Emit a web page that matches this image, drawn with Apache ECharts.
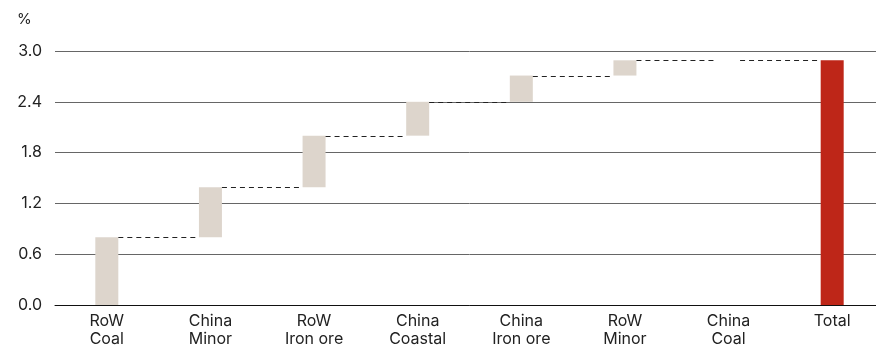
<!DOCTYPE html>
<html>
<head>
<meta charset="utf-8">
<script src="https://cdn.jsdelivr.net/npm/echarts@6/dist/echarts.min.js"></script>
<style>
  html, body { margin: 0; padding: 0; background: #fff; overflow: hidden; }
  /* plot runs slightly past the right edge of the 876px view */
  #chart { width: 884px; height: 350px; }
</style>
</head>
<body>
<div id="chart"></div>
<script>
// Contribution of each segment to growth, %
const categories = ['RoW\nCoal', 'China\nMinor', 'RoW\nIron ore', 'China\nCoastal', 'China\nIron ore', 'RoW\nMinor', 'China\nCoal', 'Total'];
const deltas = [0.80, 0.59, 0.61, 0.40, 0.31, 0.18, 0.00];
const total = 2.89;
const yTicks = [0.0, 0.6, 1.2, 1.8, 2.4, 3.0];

// Running totals: invisible base under each step, then the step itself
const bases = [];
const steps = [];
let running = 0;
deltas.forEach(function (d) {
  bases.push(+running.toFixed(4));
  steps.push(d);
  running += d;
});
bases.push(0);
steps.push(total);

// Connector levels: cumulative level after each step
const levels = bases.map(function (b, i) { return +(b + steps[i]).toFixed(4); });

const FONT = 'Inter, "DejaVu Sans", sans-serif';
const BAR_W = 23;

const chart = echarts.init(document.getElementById('chart'), null, { renderer: 'canvas' });
chart.setOption({
  animation: false,
  title: {
    text: '%', left: 12, top: 7,
    textStyle: { fontFamily: FONT, fontSize: 15, fontWeight: 'normal', color: '#222' }
  },
  grid: { left: 55, top: 51, right: 0, height: 254, containLabel: false },
  xAxis: {
    type: 'category',
    data: categories,
    axisLine: { lineStyle: { color: '#111', width: 1 } },
    axisTick: { show: false },
    axisLabel: {
      fontFamily: FONT, fontSize: 16, color: '#222', lineHeight: 18,
      margin: 7, interval: 0
    }
  },
  yAxis: {
    type: 'value',
    min: 0, max: 3.0, interval: 0.6,
    axisLine: { show: false },
    axisTick: { show: false },
    splitLine: { lineStyle: { color: '#666', width: 1 } },
    axisLabel: {
      fontFamily: FONT, fontSize: 16, color: '#222', margin: 13,
      formatter: function (v) {
        const t = yTicks.find(function (x) { return Math.abs(x - v) < 1e-6; });
        return (t !== undefined ? t : v).toFixed(1);
      }
    }
  },
  series: [
    {
      type: 'bar', stack: 'w', barWidth: BAR_W, silent: true,
      itemStyle: { color: 'transparent' },
      data: bases
    },
    {
      type: 'bar', stack: 'w', barWidth: BAR_W,
      data: steps.map(function (v, i) {
        return {
          value: v,
          itemStyle: { color: i === steps.length - 1 ? '#be2618' : '#ddd5cc' }
        };
      })
    },
    {
      // dashed connectors from one bar's top edge to the next bar
      type: 'custom',
      silent: true,
      z: 5,
      data: levels.slice(0, levels.length - 1).map(function (lv, i) { return [i, lv]; }),
      renderItem: function (params, api) {
        const i = api.value(0);
        const lv = api.value(1);
        const p0 = api.coord([i, lv]);
        const p1 = api.coord([i + 1, lv]);
        const y = Math.round(p0[1]) + 0.5;
        return {
          type: 'line',
          shape: { x1: p0[0] + BAR_W / 2, y1: y, x2: p1[0] - BAR_W / 2, y2: y },
          style: { stroke: '#222', lineWidth: 1, lineDash: [5, 4] }
        };
      }
    }
  ]
});
</script>
</body>
</html>
